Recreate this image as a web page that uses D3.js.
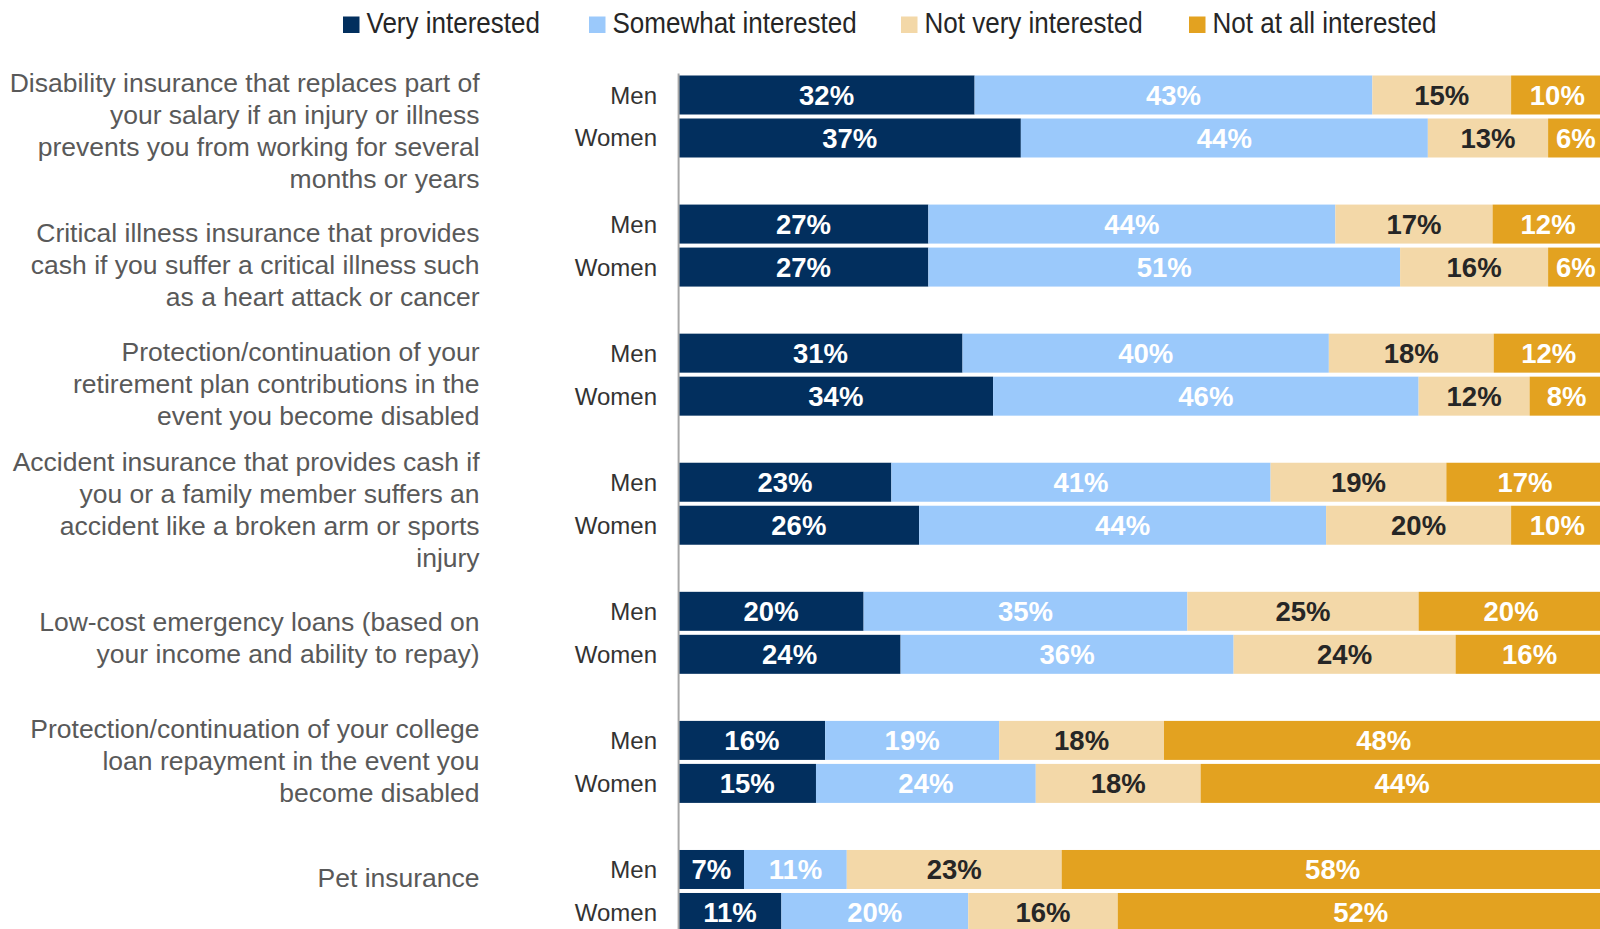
<!DOCTYPE html>
<html>
<head>
<meta charset="utf-8">
<script src="https://cdn.jsdelivr.net/npm/d3@7"></script>
<style>
  html, body { margin: 0; padding: 0; background: #fff; overflow: hidden; }
  svg { display: block; font-family: "Liberation Sans", Arial, sans-serif; }
</style>
</head>
<body>
<svg id="chart" width="1600" height="929"></svg>
<script>
// ---------- DATA ----------
const categories = [
  "Disability insurance",
  "Critical illness insurance",
  "Retirement plan protection",
  "Accident insurance",
  "Low-cost emergency loans",
  "College loan protection",
  "Pet insurance"
];
const categoryLines = [
  ["Disability insurance that replaces part of", "your salary if an injury or illness", "prevents you from working for several", "months or years"],
  ["Critical illness insurance that provides", "cash if you suffer a critical illness such", "as a heart attack or cancer"],
  ["Protection/continuation of your", "retirement plan contributions in the", "event you become disabled"],
  ["Accident insurance that provides cash if", "you or a family member suffers an", "accident like a broken arm or sports", "injury"],
  ["Low-cost emergency loans (based on", "your income and ability to repay)"],
  ["Protection/continuation of your college", "loan repayment in the event you", "become disabled"],
  ["Pet insurance"]
];
const genders = ["Men", "Women"];
const seriesNames = ["Very interested", "Somewhat interested", "Not very interested", "Not at all interested"];

const veryMen        = [32, 27, 31, 23, 20, 16, 7];
const veryWomen      = [37, 27, 34, 26, 24, 15, 11];
const somewhatMen    = [43, 44, 40, 41, 35, 19, 11];
const somewhatWomen  = [44, 51, 46, 44, 36, 24, 20];
const notVeryMen     = [15, 17, 18, 19, 25, 18, 23];
const notVeryWomen   = [13, 16, 12, 20, 24, 18, 16];
const notAtAllMen    = [10, 12, 12, 17, 20, 48, 58];
const notAtAllWomen  = [6, 6, 8, 10, 16, 44, 52];

// ---------- STYLE / LAYOUT ----------
const colors = ["#022f5e", "#9bc9fb", "#f3d8a8", "#e3a220"];
const labelColors = ["#ffffff", "#ffffff", "#262626", "#ffffff"];
const labelNudge = [13.8, 18.9, 9.2, 5.6, 4.6, -1.1, -13.3]; // vertical offset of category text vs bar group

const seriesByGender = {
  Men: [veryMen, somewhatMen, notVeryMen, notAtAllMen],
  Women: [veryWomen, somewhatWomen, notVeryWomen, notAtAllWomen]
};

const rows = [];
categories.forEach((c, i) => {
  genders.forEach(g => {
    const r = { category: c, gender: g, ci: i };
    seriesNames.forEach((s, k) => { r[s] = seriesByGender[g][k][i]; });
    rows.push(r);
  });
});

const stack = d3.stack().keys(seriesNames).offset(d3.stackOffsetExpand);
const stacked = stack(rows);

const svg = d3.select("#chart");

const axisX = 678.6;
const x = d3.scaleLinear().domain([0, 1]).range([axisX, 1603.6]);
const step = 129.08;
const yGroup = d3.scaleBand().domain(categories).range([52, 52 + step * categories.length]).padding(0);
const yInner = d3.scaleBand().domain(genders).range([23.5, 105.5]).paddingInner(0.093).paddingOuter(0);

// ---------- BARS ----------
const layers = svg.append("g").selectAll("g.layer")
  .data(stacked).join("g")
  .attr("class", "layer")
  .attr("fill", (d, i) => colors[i]);

layers.selectAll("rect")
  .data(d => d)
  .join("rect")
  .attr("x", d => x(d[0]))
  .attr("width", d => x(d[1]) - x(d[0]))
  .attr("y", d => yGroup(d.data.category) + yInner(d.data.gender))
  .attr("height", yInner.bandwidth());

// value labels
layers.each(function(layer, li) {
  d3.select(this).selectAll("text")
    .data(layer)
    .join("text")
    .attr("x", d => (x(d[0]) + x(d[1])) / 2)
    .attr("y", d => yGroup(d.data.category) + yInner(d.data.gender) + yInner.bandwidth() / 2 + 10)
    .attr("text-anchor", "middle")
    .attr("font-size", 27.5)
    .attr("font-weight", "bold")
    .attr("fill", labelColors[li])
    .text(d => d.data[layer.key] + "%");
});

// ---------- AXIS LINE ----------
const yAxis = d3.axisLeft(yGroup).tickSize(0).tickFormat("");
const axisG = svg.append("g").attr("transform", `translate(${axisX},0)`).call(yAxis);
axisG.select(".domain").attr("d", `M0,73.5V929`).attr("stroke", "#a6a6a6").attr("stroke-width", 2);

// ---------- GENDER LABELS ----------
const gl = svg.append("g");
categories.forEach(c => {
  genders.forEach(g => {
    gl.append("text")
      .attr("x", 657)
      .attr("y", yGroup(c) + yInner(g) + yInner.bandwidth() / 2 + 8.5)
      .attr("text-anchor", "end")
      .attr("font-size", 24)
      .attr("fill", "#333333")
      .text(g);
  });
});

// ---------- CATEGORY LABELS ----------
const lh = 32.1;
const cl = svg.append("g");
categoryLines.forEach((lines, i) => {
  const c = categories[i];
  const center = yGroup(c) + yInner("Men") + (yInner("Women") + yInner.bandwidth() - yInner("Men")) / 2 + labelNudge[i];
  const t = cl.append("text")
    .attr("text-anchor", "end")
    .attr("font-size", 26.5)
    .attr("fill", "#595959");
  lines.forEach((ln, j) => {
    t.append("tspan")
      .attr("x", 479.6)
      .attr("y", center + (j - (lines.length - 1) / 2) * lh + 9.5)
      .text(ln);
  });
});

// ---------- LEGEND ----------
const legendX = [343, 589, 901, 1189];
const lg = svg.append("g");
seriesNames.forEach((s, i) => {
  lg.append("rect").attr("x", legendX[i]).attr("y", 16.5).attr("width", 16.5).attr("height", 16.5).attr("fill", colors[i]);
  lg.append("text")
    .attr("transform", `translate(${legendX[i] + 23.5},33.3) scale(0.867,1)`)
    .attr("font-size", 30)
    .attr("fill", "#262626")
    .text(s);
});
</script>
</body>
</html>
